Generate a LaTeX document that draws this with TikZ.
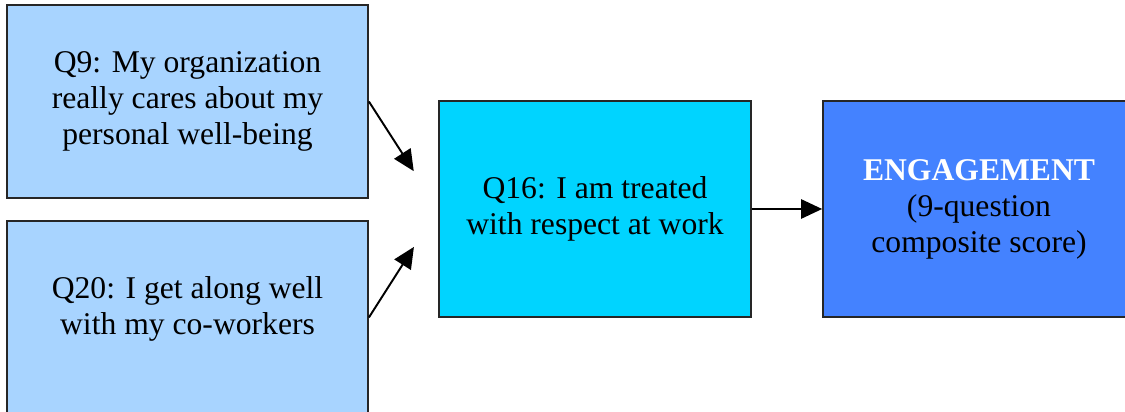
\documentclass[tikz,border=0pt]{standalone}
\usepackage{fontspec}
\setmainfont{Liberation Serif}
\usepackage{xcolor}
\usepackage{tikz}
\usetikzlibrary{arrows.meta, positioning}
\definecolor{qlight}{HTML}{A8D4FF}
\definecolor{qcyan}{HTML}{00D4FF}
\definecolor{qblue}{HTML}{4482FF}
\begin{document}
\begin{tikzpicture}[
  qbox/.style={draw=black!85, line width=1pt, inner sep=0pt, align=center, font=\fontsize{18}{20.5}\selectfont},
  qtext/.style={align=center, font=\fontsize{18}{20.5}\selectfont},
  link/.style={-{Triangle[length=12pt,width=11pt]}, line width=1.1pt}]
\useasboundingbox (0,0) rectangle (22.5,8.24);
\node[qbox, fill=qlight, minimum width=7.22cm, minimum height=3.86cm] (q9) at (3.75,6.21) {Q9: My organization\\really cares about my\\personal well-being};
\node[qbox, fill=qlight, minimum width=7.22cm, minimum height=3.86cm,
  label={[qtext, yshift=0.17cm]center:{Q20: I get along well\\with my co-workers}}] (q20) at (3.75,1.89) {};
\node[qbox, fill=qcyan, minimum width=6.24cm, minimum height=4.32cm] (q16) at (11.9,4.06) {Q16: I am treated\\with respect at work};
\node[qbox, fill=qblue, minimum width=6.24cm, minimum height=4.32cm] (eng) at (19.58,4.06) {\textcolor{white}{\textbf{ENGAGEMENT}}\\(9-question\\composite score)};
\draw[link, shorten >=0.9cm] (q9.east) -- (q16.west);
\draw[link, shorten >=0.9cm] (q20.east) -- (q16.west);
\draw[link] (q16.east) -- (eng.west);
\end{tikzpicture}
\end{document}
